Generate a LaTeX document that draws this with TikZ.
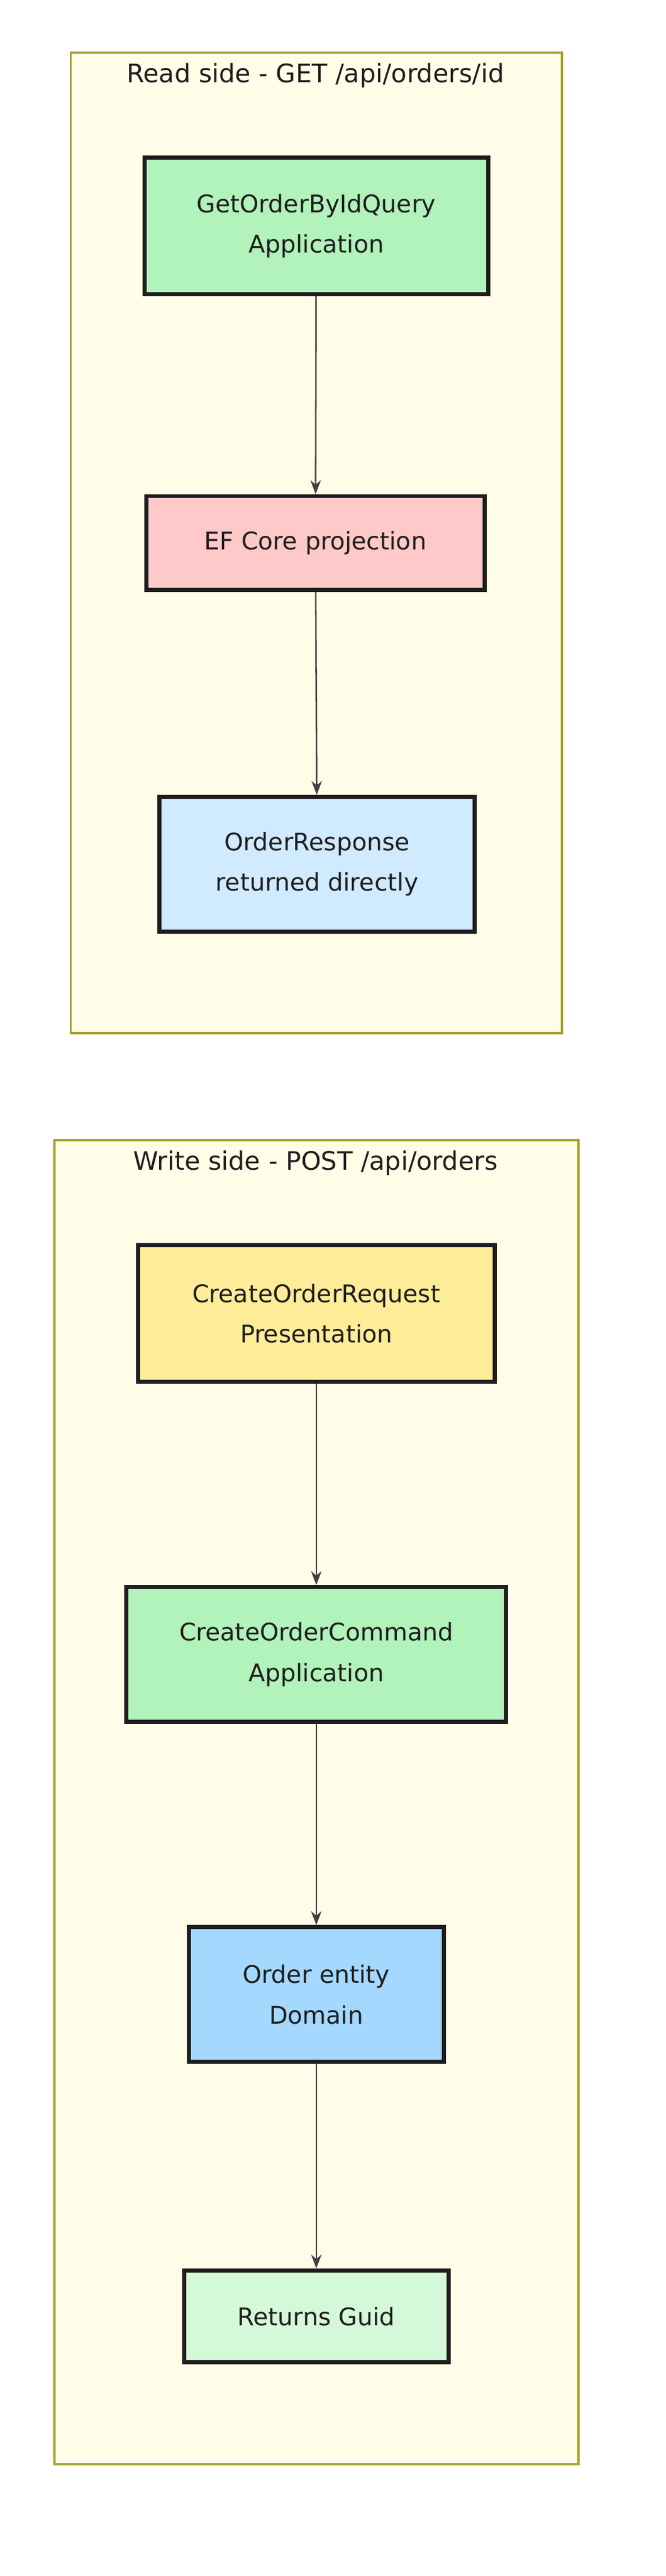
\documentclass[tikz,border=0pt]{standalone}
\usepackage{fontspec}
\setmainfont{DejaVu Sans}
\usetikzlibrary{arrows.meta}
\definecolor{clfill}{HTML}{FFFDE7}
\definecolor{clline}{HTML}{A3A32A}
\definecolor{appgreen}{HTML}{B2F2BB}
\definecolor{efpink}{HTML}{FFC9C9}
\definecolor{resblue}{HTML}{D0EBFF}
\definecolor{reqyellow}{HTML}{FFEC99}
\definecolor{domblue}{HTML}{A5D8FF}
\definecolor{guidgreen}{HTML}{D3F9D8}
\definecolor{ink}{HTML}{1E1E1E}
\tikzset{
  box/.style={draw=ink, line width=3.5pt, align=center, inner sep=0pt,
    font=\fontsize{21}{35}\selectfont, text=ink},
  flow/.style={-{Stealth[length=12pt,width=9pt]}, line width=1.3pt, draw=ink!85},
  cluster/.style={draw=clline, fill=clfill, line width=2pt},
  ctitle/.style={font=\fontsize{22}{26}\selectfont, text=ink}
}
\begin{document}
\begin{tikzpicture}[x=0.05cm,y=-0.05cm]
  % page
  \useasboundingbox (0,0) rectangle (405,1568);
  \fill[white] (0,0) rectangle (405,1568);

  % Read side
  \draw[cluster] (43,32) rectangle (342,629);
  \node[ctitle] (readtitle) at (192,46) {Read side - GET /api/orders/id};
  \node[box, fill=appgreen, minimum width=209*0.05cm, minimum height=83*0.05cm] (query) at (192.5,137.5) {GetOrderByIdQuery\\Application};
  \node[box, fill=efpink, minimum width=206*0.05cm, minimum height=57*0.05cm] (efcore) at (192,330.5) {EF Core projection};
  \node[box, fill=resblue, minimum width=192*0.05cm, minimum height=82*0.05cm] (response) at (193,526) {OrderResponse\\returned directly};
  \draw[flow] (query) -- (efcore);
  \draw[flow] (efcore) -- (response);

  % Write side
  \draw[cluster] (33,694) rectangle (352,1500);
  \node[ctitle] (writetitle) at (192,708) {Write side - POST /api/orders};
  \node[box, fill=reqyellow, minimum width=217*0.05cm, minimum height=83*0.05cm] (request) at (192.5,799.5) {CreateOrderRequest\\Presentation};
  \node[box, fill=appgreen, minimum width=231*0.05cm, minimum height=82*0.05cm] (command) at (192.5,1007) {CreateOrderCommand\\Application};
  \node[box, fill=domblue, minimum width=155*0.05cm, minimum height=82*0.05cm] (entity) at (192.5,1214) {Order entity\\Domain};
  \node[box, fill=guidgreen, minimum width=161*0.05cm, minimum height=56*0.05cm] (guid) at (192.5,1410) {Returns Guid};
  \draw[flow] (request) -- (command);
  \draw[flow] (command) -- (entity);
  \draw[flow] (entity) -- (guid);
\end{tikzpicture}
\end{document}
